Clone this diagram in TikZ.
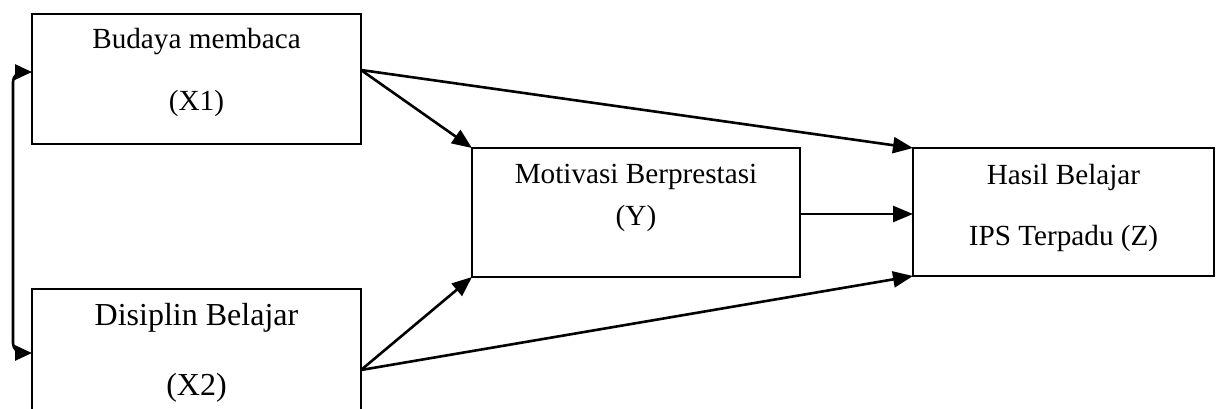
\documentclass[tikz,border=0pt]{standalone}
\usepackage{fontspec}
\setmainfont{Liberation Serif}
\usetikzlibrary{arrows.meta}
\begin{document}
\begin{tikzpicture}[x=0.5pt,y=-0.5pt,
  box/.style={draw,line width=1pt,inner sep=0pt,outer sep=0pt},
  lbl/.style={inner sep=0pt,font=\fontsize{14.6}{17}\selectfont},
  lblbig/.style={inner sep=0pt,font=\fontsize{16}{19}\selectfont},
  arr/.style={line width=1.3pt,-{Triangle[length=10pt,width=8pt]}},
  arrboth/.style={line width=1.3pt,{Triangle[length=8.5pt,width=7.5pt]}-{Triangle[length=8.5pt,width=7.5pt]},rounded corners=5pt}]
\clip (0,0) rectangle (1221,408);
\node[box,minimum width=164.5pt,minimum height=65pt] (X1) at (196.5,79) {};
\node[box,minimum width=164.5pt,minimum height=70pt] (X2) at (196.5,359) {};
\node[box,minimum width=164pt,minimum height=64.5pt] (Y) at (636,212.5) {};
\node[box,minimum width=150.5pt,minimum height=64pt] (Z) at (1063.5,212) {};
\node[lbl] (t1a) at (196.5,42) {Budaya membaca};
\node[lbl] (t1b) at (196.5,103) {(X1)};
\node[lblbig] (t2a) at (196.5,318) {Disiplin Belajar};
\node[lblbig] (t2b) at (196.5,388) {(X2)};
\node[lbl] (tya) at (636,177) {Motivasi Berprestasi};
\node[lbl] (tyb) at (636,218) {(Y)};
\node[lbl] (tza) at (1063.5,177) {Hasil Belajar};
\node[lbl] (tzb) at (1063.5,238) {IPS Terpadu (Z)};
\coordinate (c1) at (13,72);
\coordinate (c2) at (13,353);
\draw[arr] (X1.east |- 0,70) -- (Y.north west);
\draw[arr] (X1.east |- 0,70) -- (Z.north west);
\draw[arr] (X2.east |- 0,370) -- (Y.south west);
\draw[arr] (X2.east |- 0,370) -- (Z.south west);
\draw[arr] (Y.east |- 0,214) -- (Z.west |- 0,214);
\draw[arrboth] (X1.west |- c1) -- (c1) -- (c2) -- (X2.west |- c2);
\end{tikzpicture}
\end{document}
